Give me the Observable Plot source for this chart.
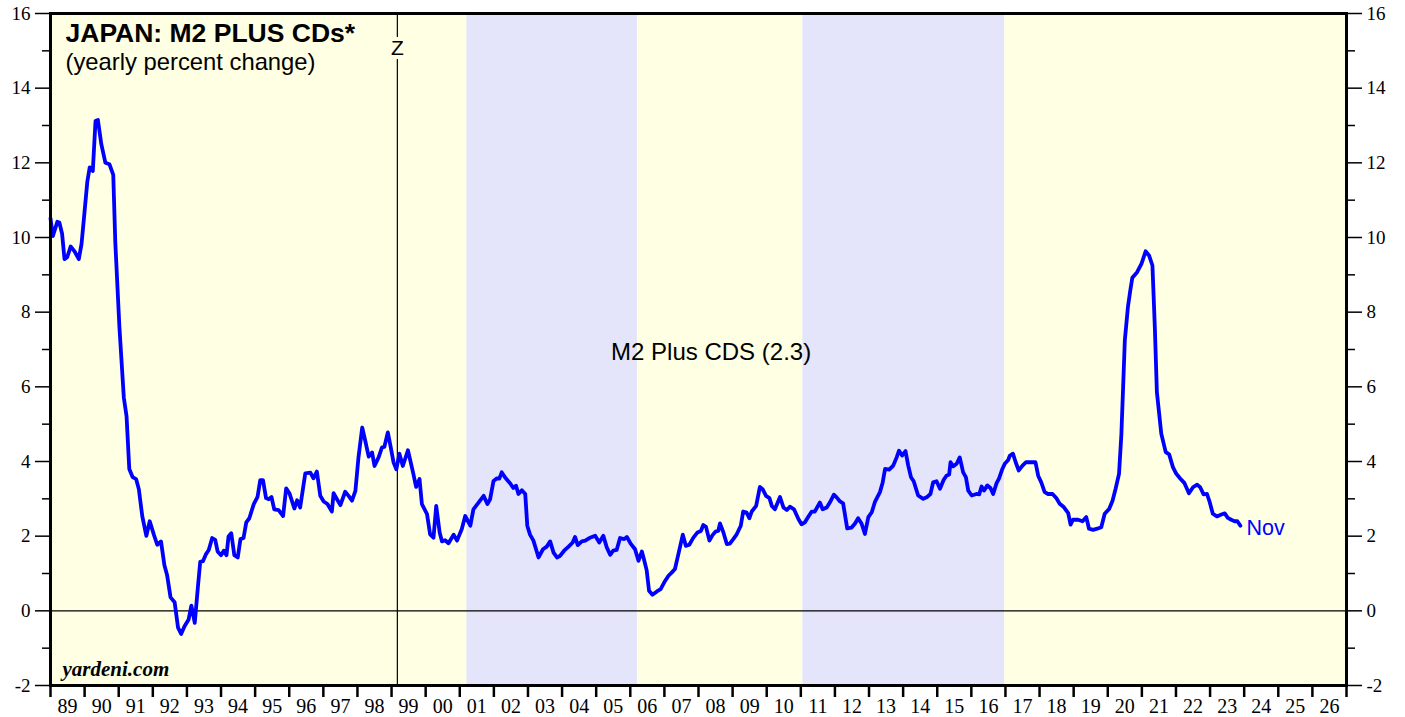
<!DOCTYPE html>
<html><head><meta charset="utf-8">
<script src="https://cdn.jsdelivr.net/npm/d3@7"></script>
<script src="https://cdn.jsdelivr.net/npm/@observablehq/plot@0.6"></script>
<style>
html,body{margin:0;padding:0;background:#fff;}
#chart svg{display:block;}
</style></head><body><div id="chart"></div>
<script>
// decimal-year dates and yearly percent change values
const dates = [
1989.00,1989.07,1989.20,1989.26,1989.34,1989.41,1989.49,1989.59,1989.71,1989.83,1989.91,1989.98,
1990.08,1990.15,1990.24,1990.32,1990.39,1990.49,1990.61,1990.73,1990.84,1990.90,
1991.02,1991.15,1991.23,1991.31,1991.41,1991.51,1991.59,1991.69,1991.81,1991.91,
1992.03,1992.13,1992.24,1992.34,1992.42,1992.52,1992.64,1992.74,1992.83,1992.93,
1993.05,1993.13,1993.23,1993.33,1993.39,1993.47,1993.56,1993.64,1993.74,1993.83,1993.90,
1994.00,1994.08,1994.16,1994.22,1994.30,1994.39,1994.49,1994.57,1994.66,1994.74,1994.83,1994.96,
1995.07,1995.15,1995.23,1995.32,1995.40,1995.48,1995.56,1995.69,1995.82,1995.91,
1996.01,1996.15,1996.23,1996.32,1996.47,1996.62,1996.71,1996.81,1996.91,
1997.01,1997.12,1997.25,1997.30,1997.40,1997.50,1997.64,1997.74,1997.84,1997.94,
1998.03,1998.14,1998.23,1998.33,1998.43,1998.50,1998.62,1998.72,1998.79,1998.89,1998.96,
1999.06,1999.14,1999.23,1999.33,1999.48,1999.63,1999.72,1999.82,1999.89,
2000.04,2000.13,2000.23,2000.31,2000.41,2000.48,2000.57,2000.67,2000.82,2000.92,
2001.06,2001.16,2001.31,2001.40,2001.55,2001.70,2001.81,2001.89,2001.99,
2002.09,2002.16,2002.23,2002.33,2002.48,2002.57,2002.65,2002.72,2002.82,2002.92,2002.98,
2003.06,2003.16,2003.31,2003.44,2003.55,2003.65,2003.75,2003.85,2003.94,
2004.06,2004.19,2004.31,2004.38,2004.46,2004.58,2004.68,2004.80,2004.97,
2005.09,2005.21,2005.31,2005.41,2005.50,2005.60,2005.70,2005.82,2005.90,
2006.01,2006.14,2006.24,2006.34,2006.40,2006.48,2006.55,2006.65,2006.78,2006.89,
2007.02,2007.12,2007.22,2007.31,2007.41,2007.54,2007.63,2007.73,2007.85,2007.97,
2008.07,2008.14,2008.22,2008.32,2008.42,2008.51,2008.58,2008.63,2008.73,2008.83,2008.92,
2009.02,2009.12,2009.24,2009.31,2009.41,2009.49,2009.56,2009.69,2009.80,2009.88,2009.98,
2010.08,2010.15,2010.24,2010.39,2010.49,2010.59,2010.68,2010.80,2010.93,
2011.02,2011.12,2011.22,2011.32,2011.41,2011.56,2011.64,2011.76,2011.85,2011.97,
2012.05,2012.15,2012.24,2012.36,2012.49,2012.59,2012.68,2012.78,2012.88,2012.98,
2013.08,2013.17,2013.32,2013.40,2013.47,2013.59,2013.71,2013.81,2013.88,2013.97,
2014.07,2014.15,2014.23,2014.31,2014.44,2014.59,2014.69,2014.80,2014.88,2014.98,
2015.08,2015.19,2015.27,2015.35,2015.39,2015.47,2015.57,2015.66,2015.76,2015.84,2015.91,
2016.01,2016.15,2016.23,2016.30,2016.37,2016.47,2016.56,2016.64,2016.74,2016.81,2016.91,2016.98,
2017.08,2017.13,2017.22,2017.30,2017.39,2017.50,2017.60,2017.76,2017.88,2017.96,
2018.05,2018.15,2018.25,2018.38,2018.49,2018.59,2018.71,2018.84,2018.91,2018.98,
2019.13,2019.26,2019.37,2019.45,2019.57,2019.69,2019.81,2019.91,
2020.04,2020.14,2020.23,2020.33,2020.40,2020.45,2020.50,2020.59,2020.66,2020.72,2020.86,2020.99,
2021.11,2021.21,2021.31,2021.38,2021.44,2021.57,2021.70,2021.80,2021.91,
2022.01,2022.13,2022.25,2022.38,2022.50,2022.62,2022.71,2022.81,2022.91,2022.99,
2023.08,2023.20,2023.33,2023.43,2023.52,2023.62,2023.72,2023.80,2023.89
];
const values = [
10.51,10.04,10.42,10.40,10.10,9.42,9.47,9.76,9.62,9.42,9.83,10.51,
11.50,11.88,11.78,13.12,13.15,12.50,12.00,11.96,11.68,9.87,
7.61,5.71,5.21,3.80,3.58,3.53,3.26,2.54,2.01,2.40,
2.04,1.77,1.86,1.22,0.95,0.36,0.23,-0.45,-0.62,-0.41,
-0.23,0.14,-0.32,0.72,1.31,1.33,1.52,1.63,1.95,1.90,1.59,
1.49,1.61,1.49,1.99,2.08,1.49,1.43,1.92,1.95,2.37,2.48,2.86,
3.05,3.50,3.50,3.02,2.99,3.05,2.72,2.70,2.54,3.28,
3.14,2.74,2.96,2.77,3.68,3.70,3.55,3.73,3.08,
2.93,2.86,2.66,3.15,2.99,2.83,3.19,3.08,2.95,3.21,
4.11,4.91,4.55,4.13,4.24,3.88,4.11,4.38,4.39,4.78,4.46,
3.97,3.79,4.21,3.88,4.30,3.71,3.32,3.53,2.86,
2.59,2.05,1.96,2.81,2.10,1.86,1.89,1.81,2.04,1.88,
2.19,2.54,2.28,2.72,2.90,3.08,2.86,2.99,3.48,
3.55,3.54,3.71,3.57,3.41,3.29,3.35,3.13,3.23,3.13,2.28,
2.04,1.88,1.43,1.65,1.72,1.86,1.56,1.43,1.47,
1.61,1.72,1.83,1.98,1.76,1.86,1.88,1.95,2.01,
1.83,2.01,1.70,1.50,1.61,1.63,1.95,1.92,1.98,
1.80,1.65,1.34,1.59,1.38,1.09,0.54,0.43,0.52,0.58,
0.80,0.94,1.03,1.12,1.52,2.04,1.74,1.77,1.96,2.10,
2.14,2.30,2.25,1.88,2.04,2.13,2.14,2.34,2.10,1.79,1.80,
1.92,2.05,2.28,2.66,2.63,2.48,2.66,2.81,3.32,3.26,3.08,
3.02,2.81,2.72,3.05,2.77,2.70,2.79,2.72,2.46,
2.32,2.37,2.52,2.66,2.66,2.90,2.72,2.77,2.90,3.11,
3.04,2.93,2.88,2.21,2.23,2.34,2.48,2.34,2.06,2.51,
2.64,2.91,3.18,3.44,3.80,3.78,3.89,4.11,4.29,4.16,
4.28,3.89,3.58,3.47,3.09,3.00,3.04,3.13,3.44,3.47,
3.27,3.51,3.62,3.65,3.98,3.87,3.94,4.11,3.71,3.58,3.22,
3.09,3.13,3.12,3.33,3.22,3.36,3.29,3.13,3.42,3.54,3.80,3.94,
4.04,4.16,4.21,3.98,3.76,3.89,3.98,3.98,3.98,3.62,
3.44,3.18,3.13,3.13,3.02,2.87,2.78,2.62,2.31,2.44,
2.44,2.40,2.51,2.20,2.17,2.20,2.24,2.60,
2.73,2.95,3.27,3.67,4.74,5.99,7.24,8.13,8.58,8.92,9.07,9.30,
9.63,9.52,9.25,7.60,5.86,4.74,4.25,4.19,3.85,
3.67,3.54,3.42,3.15,3.31,3.38,3.31,3.12,3.13,2.91,
2.60,2.53,2.58,2.61,2.49,2.44,2.40,2.40,2.28
];

// shaded background periods
const periodStart = [1989, 2001.21, 2006.21, 2011.06, 2016.98];
const periodEnd   = [2001.21, 2006.21, 2011.06, 2016.98, 2027];
const periodFill  = ["#FFFFE3", "#E4E4FA", "#FFFFE3", "#E4E4FA", "#FFFFE3"];

// axes
const yearTicks = d3.range(1989, 2028);
const yearLabels = ["89","90","91","92","93","94","95","96","97","98","99","00","01","02","03","04","05","06","07","08","09","10","11","12","13","14","15","16","17","18","19","20","21","22","23","24","25","26"];
const yMajor = [-2, 0, 2, 4, 6, 8, 10, 12, 14, 16];
const yMinor = [-1, 1, 3, 5, 7, 9, 11, 13, 15];

// annotations
const zDate = 1999.17;
const seriesLabel = [{t: 2008.37, v: 6.92, s: "M2 Plus CDS (2.3)"}];
const endLabel = "Nov";

const series = dates.map((d, i) => ({t: d, v: values[i]}));
const periods = periodStart.map((s, i) => ({x1: s, x2: periodEnd[i], fill: periodFill[i]}));
const labelPos = yearLabels.map((l, i) => yearTicks[i] + 0.5);
const sans = "'Liberation Sans', Arial, sans-serif";
const serif = "'Liberation Serif', 'Times New Roman', serif";

const chart = Plot.plot({
  width: 1405, height: 717,
  marginLeft: 50, marginRight: 59, marginTop: 13, marginBottom: 32,
  x: {type: "linear", domain: [1989, 2027], axis: null},
  y: {domain: [-2, 16], axis: null},
  style: {fontFamily: serif, fontSize: "19px", color: "black", background: "white", overflow: "visible"},
  marks: [
    Plot.rect(periods, {x1: "x1", x2: "x2", fill: "fill"}),
    Plot.ruleY([0], {stroke: "black", strokeWidth: 1.2}),
    Plot.ruleX([zDate], {stroke: "black", strokeWidth: 1.2}),
    Plot.text([{t: zDate, s: "Z"}], {x: "t", text: "s", frameAnchor: "top", lineAnchor: "middle", dy: 35, fontFamily: sans, fontSize: 21, fill: "black", stroke: "#FFFFE3", strokeWidth: 8}),
    Plot.line(series, {x: "t", y: "v", stroke: "#0000FF", strokeWidth: 3.8, strokeLinejoin: "round"}),
    Plot.text([series[series.length - 1]], {x: "t", y: "v", text: () => endLabel, textAnchor: "start", lineAnchor: "middle", dx: 6, dy: 2, fill: "#0000FF", fontFamily: sans, fontSize: 21.5}),
    Plot.text(seriesLabel, {x: "t", y: "v", text: "s", lineAnchor: "middle", fontFamily: sans, fontSize: 24, fill: "black"}),
    Plot.text(["JAPAN: M2 PLUS CDs*"], {text: d => d, frameAnchor: "top-left", lineAnchor: "middle", dx: 15, dy: 20, textAnchor: "start", fontFamily: sans, fontWeight: "bold", fontSize: 26.5, fill: "black"}),
    Plot.text(["(yearly percent change)"], {text: d => d, frameAnchor: "top-left", lineAnchor: "middle", dx: 15, dy: 49, textAnchor: "start", fontFamily: sans, fontSize: 23.8, fill: "black"}),
    Plot.text(["yardeni.com"], {text: d => d, frameAnchor: "bottom-left", lineAnchor: "middle", dx: 12, dy: -16, textAnchor: "start", fontFamily: serif, fontStyle: "italic", fontWeight: "bold", fontSize: 21, fill: "black"}),
    Plot.axisY(yMajor, {anchor: "left", tickSize: 15, tickPadding: 5, tickFormat: d => String(d), fontSize: 19, strokeWidth: 1.5, label: null}),
    Plot.axisY(yMinor, {anchor: "left", tickSize: 8, tickFormat: () => "", strokeWidth: 1.5, label: null}),
    Plot.axisY(yMajor, {anchor: "right", tickSize: 15, tickPadding: 5, tickFormat: d => String(d), fontSize: 19, strokeWidth: 1.5, label: null}),
    Plot.axisY(yMinor, {anchor: "right", tickSize: 8, tickFormat: () => "", strokeWidth: 1.5, label: null}),
    Plot.axisX(yearTicks, {anchor: "bottom", tickSize: 12, tickFormat: () => "", strokeWidth: 2.5, label: null}),
    Plot.axisX(labelPos, {anchor: "bottom", tickSize: 0, tickPadding: 13, tickFormat: d => yearLabels[Math.round(d - 1989.5)], fontSize: 20, label: null}),
    Plot.frame({stroke: "black", strokeWidth: 3})
  ]
});
document.getElementById("chart").appendChild(chart);
</script>
</body></html>
